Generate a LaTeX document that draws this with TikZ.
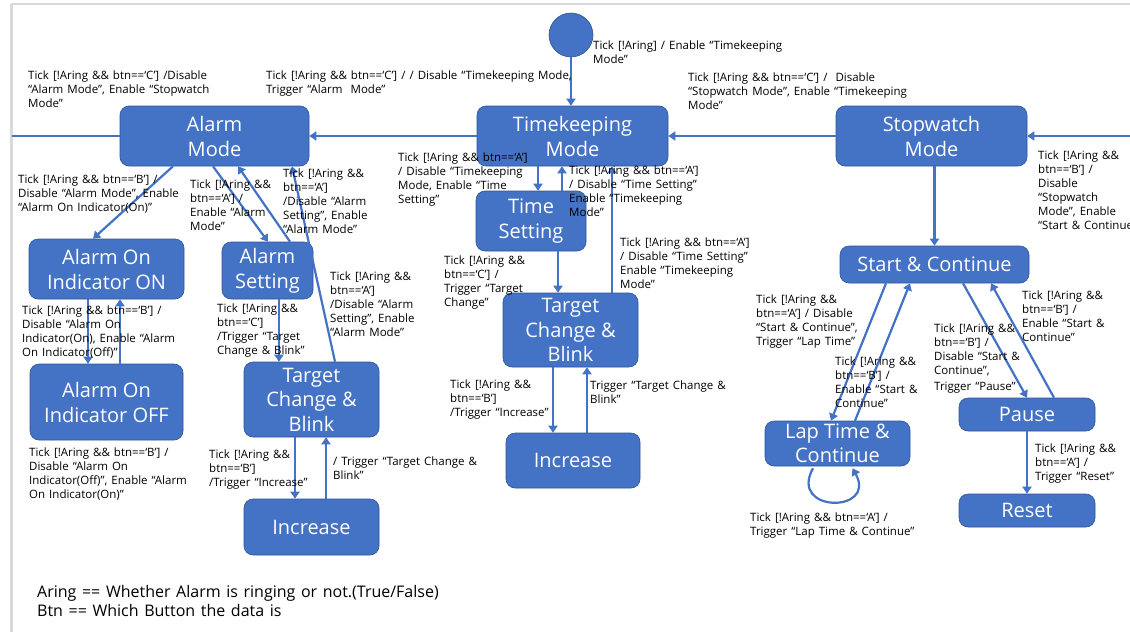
\documentclass[tikz,border=0pt]{standalone}
\usepackage{fontspec}
\setmainfont{Open Sans}
\newfontfamily\lblfont[WordSpace=1.35]{Open Sans}
\usetikzlibrary{arrows.meta}
\definecolor{nodeblue}{HTML}{4472C4}
\definecolor{nodeedge}{HTML}{2F5597}
\definecolor{pagegray}{HTML}{D9D9D9}
\begin{document}
\begin{tikzpicture}[x=1pt,y=-1pt,
  state/.style={rectangle, rounded corners=9pt, fill=nodeblue, draw=nodeedge, line width=0.6pt, text=white, font=\fontsize{20}{25}\selectfont, align=center, inner sep=0pt},
  lbl/.style={anchor=north west, align=left, inner sep=0pt, font=\lblfont\fontsize{11.5}{14}\selectfont, text=black},
  legend/.style={anchor=north west, align=left, inner sep=0pt, font=\lblfont\fontsize{16}{19.5}\selectfont, text=black},
  arr/.style={draw=nodeblue, line width=2.2pt, -{Triangle[width=9pt,length=7pt]}},
  ln/.style={draw=nodeblue, line width=2.2pt}]
\useasboundingbox (0,0) rectangle (1130,632);
\fill[white] (0,0) rectangle (1130,632);
% page edges
\draw[pagegray, line width=1.2pt] (11,4) -- (1130,4);
\draw[pagegray, line width=3pt] (11,4) -- (11,632);

% states
\node[circle, fill=nodeblue, draw=nodeedge, line width=0.6pt, minimum size=44pt, inner sep=0pt] (init) at (571,35) {};
\node[state, minimum width=189pt, minimum height=60pt] (alarm) at (214.5,136) {Alarm\\Mode};
\node[state, minimum width=191pt, minimum height=60pt] (tk) at (572.5,136) {Timekeeping\\Mode};
\node[state, minimum width=191pt, minimum height=60pt] (sw) at (931.5,136) {Stopwatch\\Mode};
\node[state, minimum width=155pt, minimum height=60pt] (aon) at (106.5,269) {Alarm On\\Indicator ON};
\node[state, minimum width=153pt, minimum height=76pt] (aoff) at (106.5,402) {Alarm On\\Indicator OFF};
\node[state, minimum width=91pt, minimum height=57pt] (aset) at (267.5,270.5) {Alarm\\Setting};
\node[state, minimum width=135pt, minimum height=75pt, font=\fontsize{20}{24.5}\selectfont] (tcbL) at (311.5,399.5) {Target\\Change \&\\Blink};
\node[state, minimum width=135pt, minimum height=56pt] (incL) at (311.5,527) {Increase};
\node[state, minimum width=110pt, minimum height=60pt] (tset) at (531,221) {Time\\Setting};
\node[state, minimum width=135pt, minimum height=74pt, font=\fontsize{20}{24.5}\selectfont] (tcbC) at (570.5,330) {Target\\Change \&\\Blink};
\node[state, minimum width=134pt, minimum height=55pt] (incC) at (573,460.5) {Increase};
\node[state, minimum width=189pt, minimum height=37pt] (sc) at (934.5,264.5) {Start \& Continue};
\node[state, minimum width=136pt, minimum height=33pt] (pause) at (1027,414.5) {Pause};
\node[state, minimum width=136pt, minimum height=33pt] (reset) at (1027,510.5) {Reset};
\node[state, minimum width=145pt, minimum height=45pt, font=\fontsize{20}{24}\selectfont] (lap) at (837.5,443.5) {Lap Time \&\\Continue};

\coordinate (Lend) at (12,136);
\coordinate (Rend) at (1130,136);

% connectors
\draw[arr] (init.south) -- (init.south |- tk.north);
\draw[arr] (tk.west) -- (alarm.east);
\draw[arr] (sw.west) -- (tk.east);
\draw[ln] (alarm.west) -- (Lend);
\draw[arr] (Rend) -- (sw.east);
\draw[arr] (sw.south -| sc.north) -- (sc.north);
\draw[arr] ([xshift=-41.5pt]alarm.south) -- ([xshift=-13.5pt]aon.north);
\draw[arr] ([xshift=-18.5pt]aon.south) -- ([xshift=-18.5pt]aoff.north);
\draw[arr] ([xshift=13.5pt]aoff.north) -- ([xshift=13.5pt]aon.south);
\draw[arr] ([xshift=-1.5pt]alarm.south) -- ([xshift=0.5pt]aset.north);
\draw[arr] ([xshift=22.5pt]aset.north) -- ([xshift=23.5pt]alarm.south);
\draw[arr] ([xshift=23.5pt]tcbL.north) -- ([xshift=77.5pt]alarm.south);
\draw[arr] ([xshift=11.5pt]aset.south) -- ([xshift=-32.5pt]tcbL.north);
\draw[arr] ([xshift=-16.5pt]tcbL.south) -- ([xshift=-16.5pt]incL.north);
\draw[arr] ([xshift=14.5pt]incL.north) -- ([xshift=14.5pt]tcbL.south);
\draw[arr] ([xshift=-34.5pt]tk.south) -- ([xshift=7pt]tset.north);
\draw[arr] ([xshift=31pt]tset.north) -- ([xshift=-10.5pt]tk.south);
\draw[arr] ([xshift=27pt]tset.south) -- ([xshift=-12.5pt]tcbC.north);
\draw[arr] ([xshift=41.5pt]tcbC.north) -- ([xshift=39.5pt]tk.south);
\draw[arr] ([xshift=-17.5pt]tcbC.south) -- ([xshift=-20pt]incC.north);
\draw[arr] ([xshift=14pt]incC.north) -- ([xshift=16.5pt]tcbC.south);
\draw[arr] ([xshift=-48.5pt]sc.south) -- ([xshift=-6.5pt]lap.north);
\draw[arr] ([xshift=17.5pt]lap.north) -- ([xshift=-24.5pt]sc.south);
\draw[arr] ([xshift=28.5pt]sc.south) -- (pause.north);
\draw[arr] ([xshift=27pt]pause.north) -- ([xshift=56.5pt]sc.south);
\draw[arr] (pause.south) -- (reset.north);
\draw[arr] ([xshift=-24.5pt,yshift=-2pt]lap.south) .. controls +(-25,45) and +(25,45) .. ([xshift=15pt,yshift=-2pt]lap.south);

% labels
\node[lbl] (l1) at (28,71) {Tick [!Aring \&\& btn==‘C’] /Disable\\“Alarm Mode”, Enable “Stopwatch\\Mode”};
\node[lbl] (l2) at (266,71) {Tick [!Aring \&\& btn==‘C’] / / Disable “Timekeeping Mode,\\Trigger “Alarm\ \ Mode”};
\node[lbl] (l3) at (593,41) {Tick [!Aring] / Enable “Timekeeping\\Mode”};
\node[lbl] (l4) at (688,73) {Tick [!Aring \&\& btn==‘C’] /\ \ Disable\\“Stopwatch Mode”, Enable “Timekeeping\\Mode”};
\node[lbl] (l5) at (1038,151) {Tick [!Aring \&\&\\btn==‘B’] /\\Disable\\“Stopwatch\\Mode”, Enable\\“Start \& Continue”};
\node[lbl] (l6) at (18,175) {Tick [!Aring \&\& btn==‘B’] /\\Disable “Alarm Mode”, Enable\\“Alarm On Indicator(On)”};
\node[lbl] (l7) at (190,180) {Tick [!Aring \&\&\\btn==‘A’] /\\Enable “Alarm\\Mode”};
\node[lbl] (l8) at (283,169) {Tick [!Aring \&\&\\btn==‘A’]\\/Disable “Alarm\\Setting”, Enable\\“Alarm Mode”};
\node[lbl] (l9) at (398,153) {Tick [!Aring \&\& btn==‘A’]\\/ Disable “Timekeeping\\Mode, Enable “Time\\Setting”};
\node[lbl] (l10) at (569,166) {Tick [!Aring \&\& btn==‘A’]\\/ Disable “Time Setting”\\Enable “Timekeeping\\Mode”};
\node[lbl] (l11) at (22,306) {Tick [!Aring \&\& btn==‘B’] /\\Disable “Alarm On\\Indicator(On), Enable “Alarm\\On Indicator(Off)”};
\node[lbl] (l12) at (217,304) {Tick [!Aring \&\&\\btn==‘C’]\\/Trigger “Target\\Change \& Blink”};
\node[lbl] (l13) at (330,272) {Tick [!Aring \&\&\\btn==‘A’]\\/Disable “Alarm\\Setting”, Enable\\“Alarm Mode”};
\node[lbl] (l14) at (444,256) {Tick [!Aring \&\&\\btn==‘C’] /\\Trigger “Target\\Change”};
\node[lbl] (l15) at (620,238) {Tick [!Aring \&\& btn==‘A’]\\/ Disable “Time Setting”\\Enable “Timekeeping\\Mode”};
\node[lbl] (l16) at (450,380) {Tick [!Aring \&\&\\btn==‘B’]\\/Trigger “Increase”};
\node[lbl] (l17) at (590,381) {Trigger “Target Change \&\\Blink”};
\node[lbl] (l18) at (29,448) {Tick [!Aring \&\& btn==‘B’] /\\Disable “Alarm On\\Indicator(Off)”, Enable “Alarm\\On Indicator(On)”};
\node[lbl] (l19) at (209,450) {Tick [!Aring \&\&\\btn==‘B’]\\/Trigger “Increase”};
\node[lbl] (l20) at (333,457) {/ Trigger “Target Change \&\\Blink”};
\node[lbl] (l21) at (756,295) {Tick [!Aring \&\&\\btn==‘A’] / Disable\\“Start \& Continue”,\\Trigger “Lap Time”};
\node[lbl] (l22) at (835,357) {Tick [!Aring \&\&\\btn==‘B’] /\\Enable “Start \&\\Continue”};
\node[lbl] (l23) at (934,324) {Tick [!Aring \&\&\\btn==‘B’] /\\Disable “Start \&\\Continue”,\\[2pt]Trigger “Pause”};
\node[lbl] (l24) at (1022,291) {Tick [!Aring \&\&\\btn==‘B’] /\\Enable “Start \&\\Continue”};
\node[lbl] (l25) at (1035,444) {Tick [!Aring \&\&\\btn==‘A’] /\\Trigger “Reset”};
\node[lbl] (l26) at (750,513) {Tick [!Aring \&\& btn==‘A’] /\\Trigger “Lap Time \& Continue”};

% legend
\node[legend] (leg) at (37,585) {Aring == Whether Alarm is ringing or not.(True/False)\\Btn == Which Button the data is};
\end{tikzpicture}
\end{document}
